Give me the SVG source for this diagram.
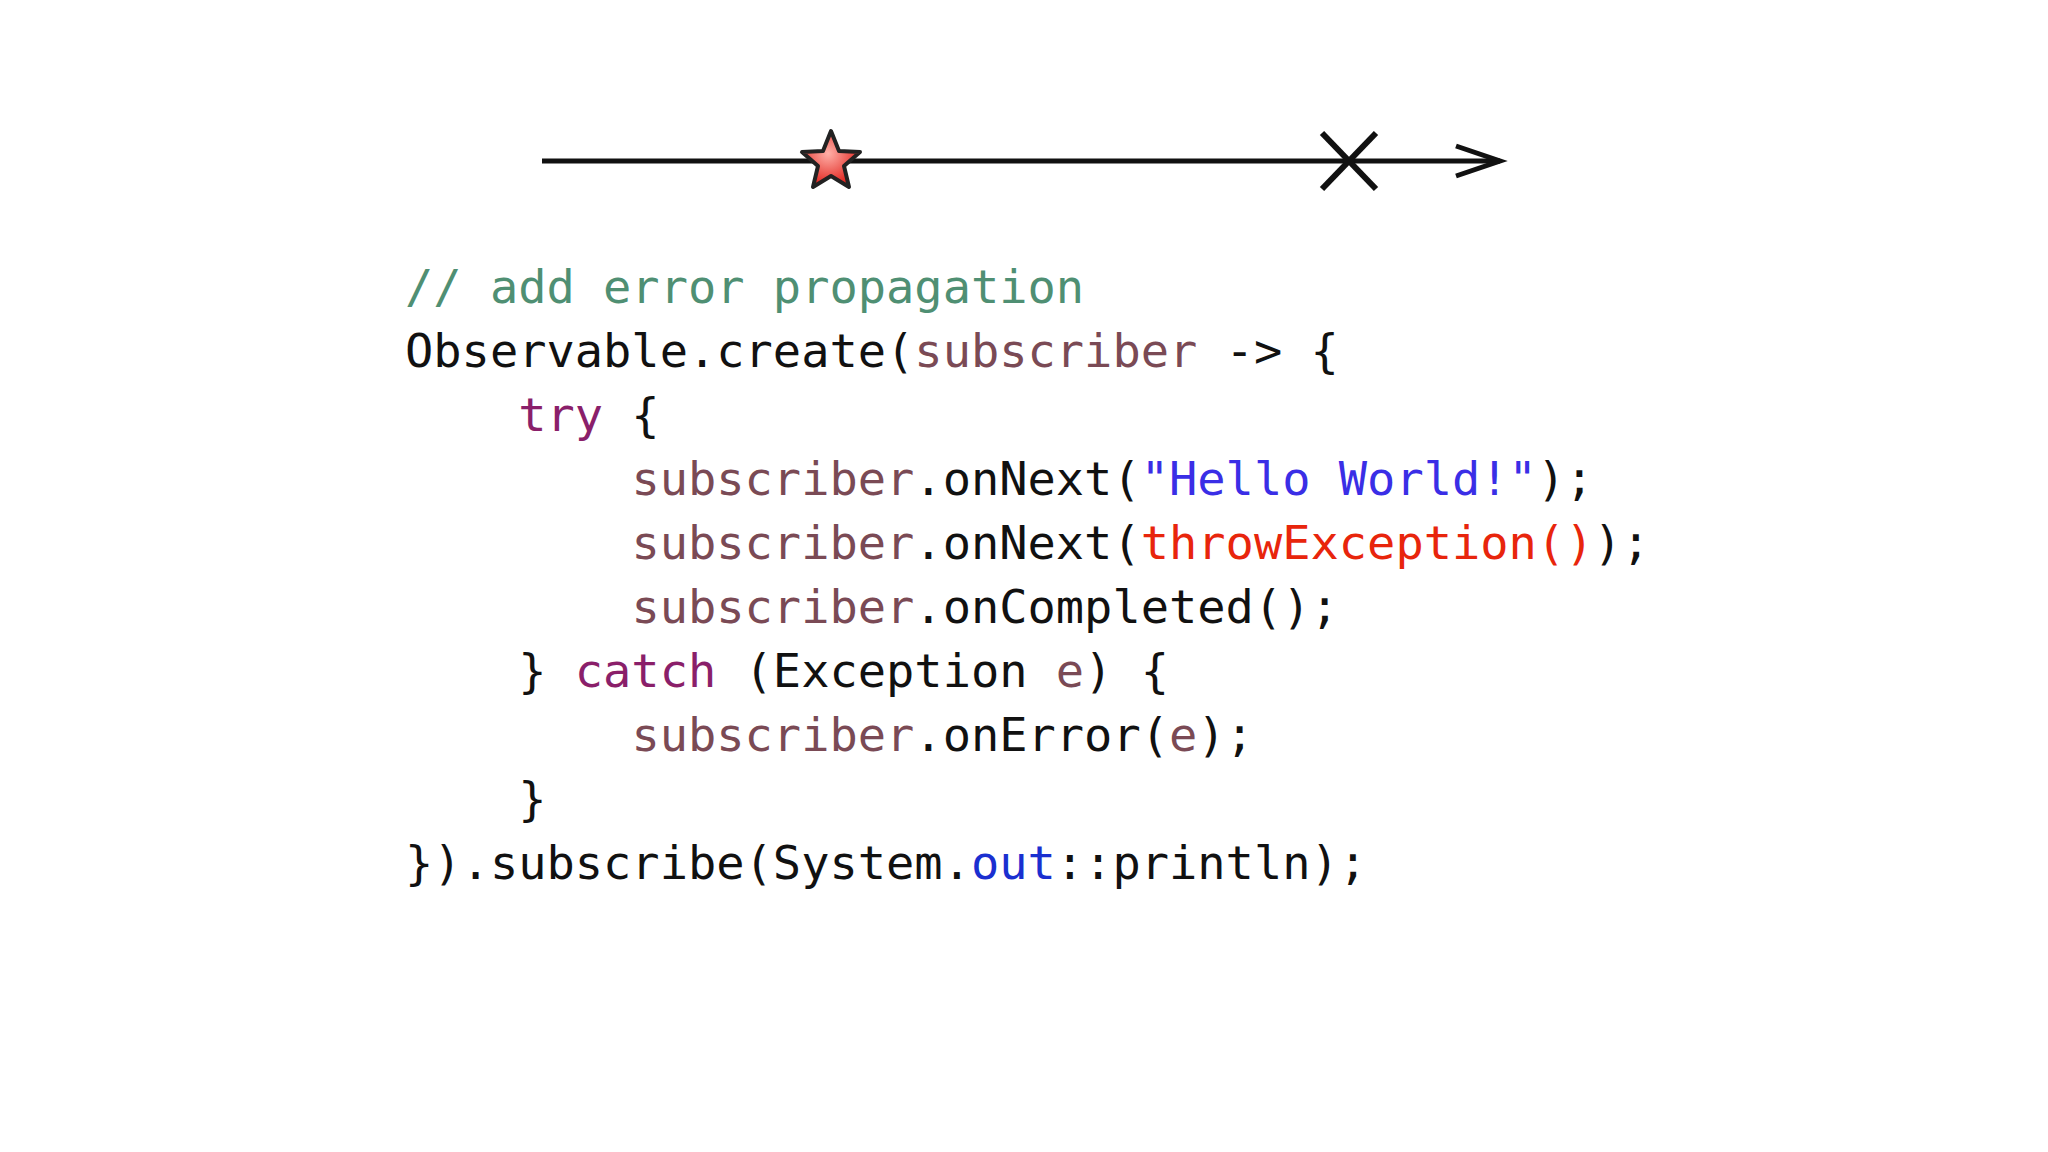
<svg xmlns="http://www.w3.org/2000/svg" width="2048" height="1152" viewBox="0 0 2048 1152">
<style>
.c{font-family:"DejaVu Sans Mono","Liberation Mono",monospace;font-size:47px;fill:#111;white-space:pre}
.cm{fill:#4f8f73}.s{fill:#7a4a55}.k{fill:#8a1f6a}.str{fill:#3a2ee6}.r{fill:#e8250c}.o{fill:#1a2fd0}
</style>
<defs>
<radialGradient id="sg" cx="0.45" cy="0.4" r="0.6"><stop offset="0" stop-color="#ffb0a8"/><stop offset="1" stop-color="#e0201a"/></radialGradient>
</defs>
<rect width="2048" height="1152" fill="#fff"/>
<g id="connectors">
<line x1="542" y1="161" x2="1500" y2="161" stroke="#111" stroke-width="5"/>
<polyline points="1456,146 1500,161 1456,176" fill="none" stroke="#111" stroke-width="5"/>
</g>
<g id="star">
<polygon points="831,131 839,151 860,152 844,166 849,187 831,176 813,187 818,166 802,152 823,151" fill="url(#sg)" stroke="#222" stroke-width="4" stroke-linejoin="round"/>
</g>
<g id="error">
<line x1="1322" y1="133" x2="1376" y2="189" stroke="#111" stroke-width="6"/>
<line x1="1376" y1="133" x2="1322" y2="189" stroke="#111" stroke-width="6"/>
</g>
<g id="code" class="c">
<text x="405" y="303" class="c cm" xml:space="preserve">// add error propagation</text>
<text x="405" y="367" class="c" xml:space="preserve">Observable.create(<tspan class="s">subscriber</tspan> -&gt; {</text>
<text x="405" y="431" class="c" xml:space="preserve">    <tspan class="k">try</tspan> {</text>
<text x="405" y="495" class="c" xml:space="preserve">        <tspan class="s">subscriber</tspan>.onNext(<tspan class="str">"Hello World!"</tspan>);</text>
<text x="405" y="559" class="c" xml:space="preserve">        <tspan class="s">subscriber</tspan>.onNext(<tspan class="r">throwException()</tspan>);</text>
<text x="405" y="623" class="c" xml:space="preserve">        <tspan class="s">subscriber</tspan>.onCompleted();</text>
<text x="405" y="687" class="c" xml:space="preserve">    } <tspan class="k">catch</tspan> (Exception <tspan class="s">e</tspan>) {</text>
<text x="405" y="751" class="c" xml:space="preserve">        <tspan class="s">subscriber</tspan>.onError(<tspan class="s">e</tspan>);</text>
<text x="405" y="815" class="c" xml:space="preserve">    }</text>
<text x="405" y="879" class="c" xml:space="preserve">}).subscribe(System.<tspan class="o">out</tspan>::println);</text>
</g>
</svg>
